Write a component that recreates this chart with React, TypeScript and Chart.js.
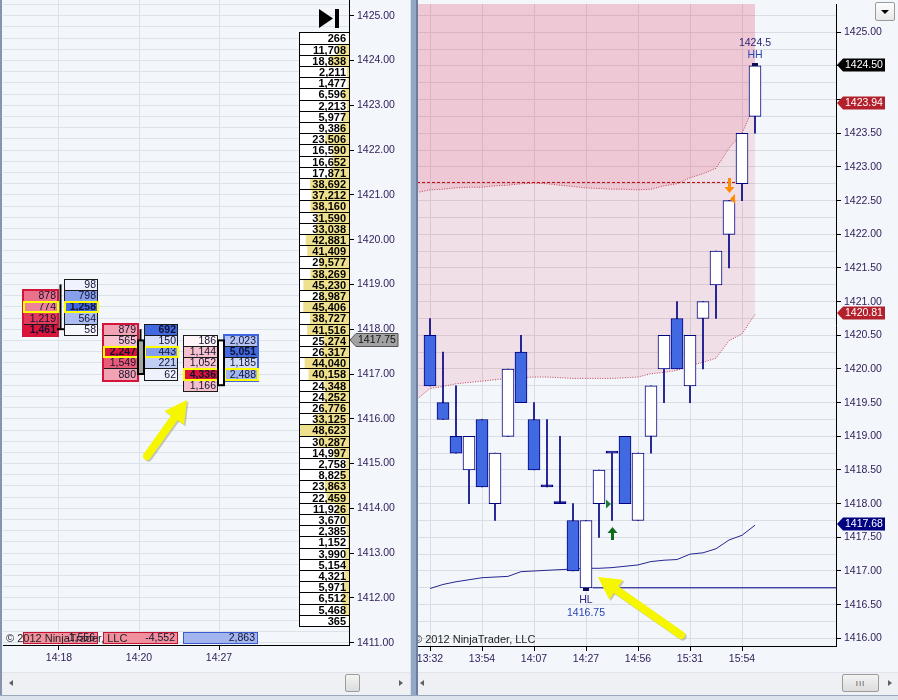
import React, { useEffect, useRef } from 'react';
import { Chart, registerables } from 'chart.js';

Chart.register(...registerables);

const FONT = "'Liberation Sans', Arial, Helvetica, sans-serif";
const AXIS_TEXT = '#2d1b57';

/* ---------------- LEFT PANEL : footprint + volume ladder ---------------- */
const fpTimes = ['14:18', '14:20', '14:27'];
const fpBidPrices = [
  [1418.75, 1418.5, 1418.25, 1418.0],
  [1418.0, 1417.75, 1417.5, 1417.25, 1417.0],
  [1417.75, 1417.5, 1417.25, 1417.0, 1416.75],
];
const fpBidVolumes = [
  [878, 774, 1219, 1461],
  [879, 565, 2247, 1549, 880],
  [186, 1144, 1052, 4336, 1166],
];
const fpAskPrices = [
  [1419.0, 1418.75, 1418.5, 1418.25, 1418.0],
  [1418.0, 1417.75, 1417.5, 1417.25, 1417.0],
  [1417.75, 1417.5, 1417.25, 1417.0],
];
const fpAskVolumes = [
  [98, 798, 1258, 564, 58],
  [692, 150, 443, 221, 62],
  [2023, 5051, 1185, 2488],
];
const fpOpen = [1418.0, 1417.75, 1416.75];
const fpHigh = [1419.0, 1418.0, 1417.75];
const fpLow = [1418.0, 1417.0, 1416.75];
const fpClose = [1418.0, 1417.0, 1417.75];

const ladderTopPrice = 1424.5;
const ladderStep = 0.25;
const ladderVolumes = [
  266, 11708, 18838, 2211, 1477, 6596, 2213, 5977, 9386, 23506,
  16590, 16652, 17871, 38692, 37212, 38160, 31590, 33038, 42881, 41409,
  29577, 38269, 45230, 28987, 45406, 38727, 41516, 25274, 26317, 44040,
  40158, 24348, 24252, 26776, 33125, 48623, 30287, 14997, 2758, 8825,
  23863, 22459, 11926, 3670, 2385, 1152, 3990, 5154, 4321, 5971,
  6512, 5468, 365,
];

const leftArrow = { fromX: 1.1, fromPrice: 1415.17, toX: 1.6, toPrice: 1416.42 };

/* ---------------- RIGHT PANEL : candles + bands ---------------- */
const candleTimes = ['13:32', '13:54', '14:07', '14:27', '14:56', '15:31', '15:54'];
const candleTimeIndex = [0, 4, 8, 12, 16, 20, 24];
const candleOpen = [
  1420.5, 1419.5, 1419.0, 1418.5, 1419.25, 1418.0, 1419.0, 1420.25, 1419.25, 1418.25,
  1418.0, 1417.75, 1416.75, 1418.0, 1418.75, 1419.0, 1417.75, 1419.0, 1420.0, 1420.75,
  1419.75, 1420.75, 1421.25, 1422.0, 1422.75, 1423.75,
];
const candleHigh = [
  1420.75, 1420.25, 1419.75, 1419.0, 1419.25, 1418.75, 1420.0, 1420.5, 1419.5, 1419.25,
  1419.0, 1418.0, 1417.75, 1418.5, 1418.75, 1419.0, 1418.75, 1419.75, 1420.5, 1421.0,
  1420.5, 1421.0, 1421.75, 1422.5, 1423.5, 1424.5,
];
const candleLow = [
  1419.75, 1419.25, 1418.75, 1418.0, 1418.25, 1417.75, 1419.0, 1419.5, 1418.5, 1418.25,
  1418.0, 1417.0, 1416.75, 1417.5, 1417.75, 1418.0, 1417.75, 1418.75, 1419.5, 1420.0,
  1419.5, 1420.0, 1420.75, 1421.5, 1422.5, 1423.5,
];
const candleClose = [
  1419.75, 1419.25, 1418.75, 1419.0, 1418.25, 1418.75, 1420.0, 1419.5, 1418.5, 1418.25,
  1418.0, 1417.0, 1417.75, 1418.5, 1418.75, 1418.0, 1418.75, 1419.75, 1420.5, 1420.0,
  1420.5, 1421.0, 1421.75, 1422.5, 1423.5, 1424.5,
];

const bandStartIndex = -1;
const upperBand = [
  1422.62, 1422.66, 1422.67, 1422.69, 1422.70, 1422.70, 1422.72, 1422.73, 1422.75, 1422.76,
  1422.75, 1422.73, 1422.71, 1422.69, 1422.68, 1422.67, 1422.67, 1422.66, 1422.67, 1422.72,
  1422.75, 1422.84, 1422.90, 1422.98, 1423.28, 1423.50, 1423.94,
];
const lowerBand = [
  1419.55, 1419.71, 1419.74, 1419.78, 1419.80, 1419.82, 1419.84, 1419.86, 1419.87, 1419.88,
  1419.88, 1419.87, 1419.86, 1419.86, 1419.86, 1419.86, 1419.87, 1419.88, 1419.93, 1419.95,
  1419.98, 1420.05, 1420.10, 1420.16, 1420.42, 1420.52, 1420.81,
];
const trendLine = [
  1416.74, 1416.80, 1416.84, 1416.87, 1416.90, 1416.91, 1416.92, 1416.99, 1417.00, 1417.01,
  1417.02, 1417.03, 1417.04, 1417.04, 1417.05, 1417.07, 1417.09, 1417.14, 1417.16, 1417.17,
  1417.25, 1417.27, 1417.33, 1417.46, 1417.53, 1417.68,
];
const keyLevel = 1422.77;
const keyLevelFrom = -1;
const keyLevelTo = 23.5;
const hlLevel = 1416.75;
const hlLevelFrom = 12.5;
const hlLevelTo = 40;
const swingLabels = [
  { index: 25, price: 1424.5, kind: 'HH', above: true },
  { index: 12, price: 1416.75, kind: 'HL', above: false },
];
const longSignal = { index: 14, entry: 1418.0 };
const shortSignal = { index: 23, entry: 1422.5 };
const rightArrow = { fromX: 19.31, fromPrice: 1416.05, toX: 12.92, toPrice: 1416.91 };

/* ---------------- helpers ---------------- */
function range(a: number, b: number, s: number) {
  const out: number[] = [];
  for (let v = a; v <= b + 1e-9; v += s) out.push(Math.round(v * 100) / 100);
  return out;
}
const leftPriceTicks = range(1411, 1425.25, 0.25);
const rightPriceTicks = range(1416, 1425.25, 0.25);
const fmt = (n: number) => n.toLocaleString('en-US');
function mix(rgb: number[], t: number) {
  const c = rgb.map((v) => Math.round(255 + (v - 255) * t));
  return `rgb(${c[0]},${c[1]},${c[2]})`;
}
const CRIMSON = [220, 20, 60];
const ROYAL = [65, 105, 225];
const last = (arr: number[]) => arr[arr.length - 1];
const rightTagValues = [last(candleClose), last(upperBand), last(lowerBand), last(trendLine)];
const rightTagColors = ['#000000', '#B3202C', '#B3202C', '#000080'];

function fatArrow(ctx: CanvasRenderingContext2D, x0: number, y0: number, x1: number, y1: number) {
  const ang = Math.atan2(y1 - y0, x1 - x0);
  const headLen = 22, headHalf = 12, shaft = 8;
  const bx = x1 - Math.cos(ang) * headLen, by = y1 - Math.sin(ang) * headLen;
  const nx = Math.cos(ang + Math.PI / 2), ny = Math.sin(ang + Math.PI / 2);
  const passes = [
    { d: 1.5, c: 'rgba(110,110,60,0.35)' },
    { d: 0, c: '#F6F600' },
  ];
  ctx.save();
  ctx.lineCap = 'round';
  for (const p of passes) {
    ctx.strokeStyle = p.c;
    ctx.fillStyle = p.c;
    ctx.lineWidth = shaft;
    ctx.beginPath();
    ctx.moveTo(x0 + p.d, y0 + p.d);
    ctx.lineTo(bx + p.d, by + p.d);
    ctx.stroke();
    ctx.beginPath();
    ctx.moveTo(x1 + p.d, y1 + p.d);
    ctx.lineTo(bx + nx * headHalf + p.d, by + ny * headHalf + p.d);
    ctx.lineTo(bx - nx * headHalf + p.d, by - ny * headHalf + p.d);
    ctx.closePath();
    ctx.fill();
  }
  ctx.restore();
}

function axisTag(ctx: CanvasRenderingContext2D, x: number, y: number, text: string, bg: string, fg: string, border?: string) {
  const h = 6.5, w = 49;
  ctx.beginPath();
  ctx.moveTo(x + 1, y);
  ctx.lineTo(x + 7, y - h);
  ctx.lineTo(x + w, y - h);
  ctx.lineTo(x + w, y + h);
  ctx.lineTo(x + 7, y + h);
  ctx.closePath();
  ctx.fillStyle = bg;
  ctx.fill();
  if (border) {
    ctx.strokeStyle = border;
    ctx.lineWidth = 1;
    ctx.stroke();
  }
  ctx.fillStyle = fg;
  ctx.font = `10.5px ${FONT}`;
  ctx.textAlign = 'left';
  ctx.textBaseline = 'middle';
  ctx.fillText(text, x + 9, y + 0.5);
}

const zeroPad = (s: any) => {
  s.paddingTop = 0;
  s.paddingBottom = 0;
  s.paddingLeft = 0;
  s.paddingRight = 0;
};

/* ---------------- left plugin ---------------- */
const leftPlugin = {
  id: 'footprintLadder',
  afterDraw(chart: any) {
    const { ctx, chartArea: a } = chart;
    const xs = chart.scales.x, ys = chart.scales.y;
    const py = (p: number) => ys.getPixelForValue(p);
    const rowT = (p: number) => Math.round(py(p + 0.125));
    const rowB = (p: number) => Math.round(py(p - 0.125));
    ctx.save();
    ctx.beginPath();
    ctx.rect(a.left, a.top, a.right - a.left, a.bottom - a.top);
    ctx.clip();

    // volume ladder
    const lx1 = Math.round(a.right), lw = 50, lx0 = lx1 - lw;
    const maxV = Math.max(...ladderVolumes);
    ladderVolumes.forEach((v, k) => {
      const p = ladderTopPrice - k * ladderStep;
      const t = rowT(p), b = rowB(p);
      ctx.fillStyle = '#FFFFFF';
      ctx.fillRect(lx0, t, lw, b - t);
      const w = (v / maxV) * (lw - 1);
      ctx.fillStyle = '#EEE08C';
      ctx.fillRect(lx1 - w, t, w, b - t);
      ctx.strokeStyle = '#000';
      ctx.lineWidth = 1;
      ctx.strokeRect(lx0 + 0.5, t + 0.5, lw, b - t);
      ctx.fillStyle = '#000';
      ctx.font = `bold 11px ${FONT}`;
      ctx.textAlign = 'right';
      ctx.textBaseline = 'middle';
      ctx.fillText(fmt(v), lx1 - 3, (t + b) / 2 + 1);
    });

    // footprint bars
    fpTimes.forEach((_, i) => {
      const xc = Math.round(xs.getPixelForValue(i));
      const bx0 = xc - 36, bx1 = xc - 2, ax0 = xc + 5, ax1 = xc + 38;
      const bids = fpBidVolumes[i], asks = fpAskVolumes[i];
      const maxB = Math.max(...bids), maxA = Math.max(...asks);
      const totals: Record<string, number> = {};
      fpBidPrices[i].forEach((p, k) => (totals[p] = (totals[p] || 0) + bids[k]));
      fpAskPrices[i].forEach((p, k) => (totals[p] = (totals[p] || 0) + asks[k]));
      let poc = 0, pocV = -1;
      Object.keys(totals).forEach((k) => {
        if (totals[k] > pocV) { pocV = totals[k]; poc = parseFloat(k); }
      });
      const drawCell = (x0: number, x1: number, p: number, fill: string, v: number, bold: boolean) => {
        const t = rowT(p), b = rowB(p);
        ctx.fillStyle = fill;
        ctx.fillRect(x0, t, x1 - x0, b - t);
        ctx.strokeStyle = '#1a1a1a';
        ctx.lineWidth = 1;
        ctx.strokeRect(x0 + 0.5, t + 0.5, x1 - x0, b - t);
        ctx.fillStyle = '#121232';
        ctx.font = `${bold ? 'bold ' : ''}10.5px ${FONT}`;
        ctx.textAlign = 'right';
        ctx.textBaseline = 'middle';
        ctx.fillText(fmt(v), x1 - 1, (t + b) / 2 + 1);
      };
      fpBidPrices[i].forEach((p, k) => drawCell(bx0, bx1, p, mix(CRIMSON, bids[k] / maxB), bids[k], bids[k] === maxB));
      fpAskPrices[i].forEach((p, k) => drawCell(ax0, ax1, p, mix(ROYAL, asks[k] / maxA), asks[k], asks[k] === maxA));

      const sumB = bids.reduce((s, v) => s + v, 0), sumA = asks.reduce((s, v) => s + v, 0);
      const delta = sumA - sumB;
      // dominant side frame
      const domPrices = delta < 0 ? fpBidPrices[i] : fpAskPrices[i];
      const dx0 = delta < 0 ? bx0 : ax0, dx1 = delta < 0 ? bx1 : ax1;
      ctx.strokeStyle = delta < 0 ? '#D41438' : '#3F66DE';
      ctx.lineWidth = 2;
      const ft = rowT(Math.max(...domPrices)), fb = rowB(Math.min(...domPrices));
      ctx.strokeRect(dx0, ft, dx1 - dx0 + 1, fb - ft + 1);
      // POC row frames
      ctx.strokeStyle = '#FFFF00';
      ctx.lineWidth = 2;
      const pt = rowT(poc), pb = rowB(poc);
      if (fpBidPrices[i].includes(poc)) ctx.strokeRect(bx0 + 1, pt + 1, bx1 - bx0, pb - pt - 1);
      if (fpAskPrices[i].includes(poc)) ctx.strokeRect(ax0 + 1, pt + 1, ax1 - ax0, pb - pt - 1);

      // mini candle
      const cx = xc + 1.5;
      const o = fpOpen[i], c = fpClose[i];
      ctx.strokeStyle = '#000';
      ctx.lineWidth = 2;
      ctx.beginPath();
      ctx.moveTo(cx, py(fpHigh[i]));
      ctx.lineTo(cx, py(Math.max(o, c)));
      ctx.moveTo(cx, py(Math.min(o, c)));
      ctx.lineTo(cx, py(fpLow[i]));
      ctx.stroke();
      if (o === c) {
        ctx.beginPath();
        ctx.moveTo(xc - 2, py(c));
        ctx.lineTo(xc + 5, py(c));
        ctx.stroke();
      } else {
        const t = py(Math.max(o, c)), b = py(Math.min(o, c));
        ctx.fillStyle = c > o ? '#FFFFFF' : '#A6A6A6';
        ctx.fillRect(xc - 1, t, 6, b - t);
        ctx.strokeRect(xc - 1, t, 6, b - t);
      }

      // delta box
      const dt = Math.round(a.bottom) - 13, dh = 11;
      ctx.fillStyle = delta < 0 ? '#F1909D' : '#A3B5EF';
      ctx.fillRect(bx0, dt, ax1 - bx0, dh);
      ctx.strokeStyle = delta < 0 ? '#C41232' : '#3A5ACF';
      ctx.lineWidth = 1;
      ctx.strokeRect(bx0 + 0.5, dt + 0.5, ax1 - bx0, dh);
      ctx.fillStyle = '#121232';
      ctx.font = `10.5px ${FONT}`;
      ctx.textAlign = 'right';
      ctx.textBaseline = 'middle';
      ctx.fillText(fmt(delta), ax1 - 2, dt + dh / 2 + 1);
    });

    // annotation arrow
    fatArrow(ctx, xs.getPixelForValue(leftArrow.fromX), py(leftArrow.fromPrice),
      xs.getPixelForValue(leftArrow.toX), py(leftArrow.toPrice));

    // copyright
    ctx.fillStyle = '#1e1e1e';
    ctx.font = `11px ${FONT}`;
    ctx.textAlign = 'left';
    ctx.textBaseline = 'middle';
    ctx.fillText('\u00A9 2012 NinjaTrader, LLC', a.left + 3, a.bottom - 6);

    // "go to end" icon
    ctx.fillStyle = '#000';
    ctx.beginPath();
    ctx.moveTo(a.right - 30, a.top + 9);
    ctx.lineTo(a.right - 16, a.top + 18.5);
    ctx.lineTo(a.right - 30, a.top + 28);
    ctx.closePath();
    ctx.fill();
    ctx.fillRect(a.right - 14, a.top + 9, 4, 19);
    ctx.restore();

    // last price tag
    ctx.save();
    axisTag(ctx, a.right, Math.round(py(fpClose[fpClose.length - 1])), fpClose[fpClose.length - 1].toFixed(2), '#A2A2A2', '#111', '#555');
    ctx.restore();
  },
};

/* ---------------- right plugin ---------------- */
const rightPlugin = {
  id: 'candleMarks',
  afterDatasetsDraw(chart: any) {
    const { ctx, chartArea: a } = chart;
    const xs = chart.scales.x, ys = chart.scales.y;
    const px = (i: number) => Math.round(xs.getPixelForValue(i));
    const py = (p: number) => ys.getPixelForValue(p);
    ctx.save();
    ctx.beginPath();
    ctx.rect(a.left, a.top, a.right - a.left, a.bottom - a.top);
    ctx.clip();

    // swing labels
    swingLabels.forEach((s) => {
      const xc = px(s.index), y = Math.round(py(s.price));
      ctx.fillStyle = '#0c0c50';
      if (s.above) ctx.fillRect(xc - 3, y - 3, 6, 3);
      else ctx.fillRect(xc - 3, y, 6, 3);
      ctx.font = `10.5px ${FONT}`;
      ctx.textAlign = 'center';
      ctx.textBaseline = 'middle';
      if (s.above) {
        ctx.fillStyle = '#2b237a';
        ctx.fillText(String(s.price), xc, y - 23);
        ctx.fillStyle = '#2845b5';
        ctx.fillText(s.kind, xc, y - 11);
      } else {
        ctx.fillStyle = '#3a2a8a';
        ctx.fillText(s.kind, xc, y + 12);
        ctx.fillStyle = '#2845b5';
        ctx.fillText(String(s.price), xc, y + 25);
      }
    });

    // long signal (green)
    {
      const xc = px(longSignal.index);
      const yl = Math.round(py(candleLow[longSignal.index]));
      ctx.fillStyle = '#0E6B1E';
      ctx.beginPath();
      ctx.moveTo(xc - 4.5, yl + 13);
      ctx.lineTo(xc + 0.5, yl + 7);
      ctx.lineTo(xc + 5.5, yl + 13);
      ctx.closePath();
      ctx.fill();
      ctx.fillRect(xc - 1, yl + 13, 3, 7);
      const ye = Math.round(py(longSignal.entry));
      ctx.fillStyle = '#1F7D2F';
      ctx.beginPath();
      ctx.moveTo(xc - 6, ye - 4.5);
      ctx.lineTo(xc - 1, ye);
      ctx.lineTo(xc - 6, ye + 4.5);
      ctx.closePath();
      ctx.fill();
    }
    // short signal (orange)
    {
      const xc = px(shortSignal.index);
      const yh = Math.round(py(candleHigh[shortSignal.index]));
      ctx.fillStyle = '#FF8C00';
      ctx.fillRect(xc - 1, yh - 23, 3, 9);
      ctx.beginPath();
      ctx.moveTo(xc - 4.5, yh - 14);
      ctx.lineTo(xc + 5.5, yh - 14);
      ctx.lineTo(xc + 0.5, yh - 8);
      ctx.closePath();
      ctx.fill();
      const ye = Math.round(py(shortSignal.entry));
      ctx.beginPath();
      ctx.moveTo(xc + 1, ye - 2);
      ctx.lineTo(xc + 6, ye - 7);
      ctx.lineTo(xc + 6, ye + 3);
      ctx.closePath();
      ctx.fill();
    }

    fatArrow(ctx, xs.getPixelForValue(rightArrow.fromX), py(rightArrow.fromPrice),
      xs.getPixelForValue(rightArrow.toX), py(rightArrow.toPrice));
    ctx.restore();

    ctx.save();
    ctx.fillStyle = '#1e1e1e';
    ctx.font = `11px ${FONT}`;
    ctx.textAlign = 'left';
    ctx.textBaseline = 'middle';
    ctx.fillText('\u00A9 2012 NinjaTrader, LLC', a.left - 4, a.bottom - 6);
    ctx.restore();
  },
  afterDraw(chart: any) {
    const { ctx, chartArea: a } = chart;
    const ys = chart.scales.y;
    ctx.save();
    rightTagValues.forEach((v, k) =>
      axisTag(ctx, a.right, Math.round(ys.getPixelForValue(v)) - 1, v.toFixed(2), rightTagColors[k], '#FFFFFF'));
    ctx.restore();
  },
};

const isInt = (v: number) => Math.abs(v - Math.round(v)) < 1e-6;
const isHalf = (v: number) => Math.abs(v * 2 - Math.round(v * 2)) < 1e-6;
const hiddenByTag = (v: number) => rightTagValues.some((t) => Math.abs(t - v) < 0.1);

export default function App() {
  const leftRef = useRef<HTMLCanvasElement>(null);
  const rightRef = useRef<HTMLCanvasElement>(null);

  useEffect(() => {
    Chart.defaults.font.family = FONT;
    const tickFont = { family: FONT, size: 10.5 };

    const left = new Chart(leftRef.current as HTMLCanvasElement, {
      type: 'scatter',
      data: { datasets: [] },
      options: {
        responsive: false,
        animation: false,
        devicePixelRatio: 1,
        events: [],
        layout: { padding: { left: 3, top: 0, right: 0, bottom: 0 } },
        plugins: { legend: { display: false }, tooltip: { enabled: false } },
        scales: {
          x: {
            type: 'linear',
            min: -0.7,
            max: 3.625,
            afterBuildTicks: (s: any) => { s.ticks = fpTimes.map((_, i) => ({ value: i })); },
            afterFit: (s: any) => { s.height = 20; zeroPad(s); },
            grid: { color: '#DDE1E8', tickLength: 5, tickColor: '#000' },
            border: { color: '#000', width: 1 },
            ticks: {
              autoSkip: false, maxRotation: 0, padding: 2, color: AXIS_TEXT, font: tickFont,
              callback: (v: any) => fpTimes[Math.round(v)] ?? '',
            },
          },
          y: {
            type: 'linear',
            position: 'right',
            min: 1410.95,
            max: 1425.35,
            afterBuildTicks: (s: any) => { s.ticks = leftPriceTicks.map((v) => ({ value: v })); },
            afterFit: (s: any) => { s.width = 61; zeroPad(s); },
            grid: {
              color: '#DDE1E8', tickLength: 5,
              tickColor: (c: any) => (c.tick && isInt(c.tick.value) ? '#000' : 'rgba(0,0,0,0)'),
            },
            border: { color: '#000', width: 1 },
            ticks: {
              autoSkip: false, padding: 3, color: AXIS_TEXT, font: tickFont,
              callback: (v: any) => (isInt(v) ? Number(v).toFixed(2) : ''),
            },
          },
        },
      },
      plugins: [leftPlugin],
    } as any);

    const idx = candleOpen.map((_, i) => i);
    const right = new Chart(rightRef.current as HTMLCanvasElement, {
      type: 'bar',
      data: {
        datasets: [
          {
            type: 'bar',
            label: 'body',
            data: idx.map((i) => ({ x: i, y: [candleOpen[i], candleClose[i]] })),
            backgroundColor: idx.map((i) => (candleClose[i] > candleOpen[i] ? '#FFFFFF' : candleClose[i] < candleOpen[i] ? '#4169E1' : '#000080')),
            borderColor: '#000080',
            borderWidth: 1,
            borderSkipped: false,
            barThickness: 12,
            minBarLength: 2,
            grouped: false,
            order: 0,
          },
          {
            type: 'bar',
            label: 'wick',
            data: idx.map((i) => ({ x: i, y: [candleLow[i], candleHigh[i]] })),
            backgroundColor: '#000080',
            borderWidth: 0,
            barThickness: 1,
            grouped: false,
            order: 1,
          },
          {
            type: 'line',
            label: 'hl',
            data: [{ x: hlLevelFrom, y: hlLevel }, { x: hlLevelTo, y: hlLevel }],
            borderColor: '#000080', borderWidth: 1, pointRadius: 0, fill: false, order: 2,
          },
          {
            type: 'line',
            label: 'trend',
            data: trendLine.map((v, i) => ({ x: i, y: v })),
            borderColor: '#262690', borderWidth: 1, pointRadius: 0, fill: false, order: 3,
          },
          {
            type: 'line',
            label: 'key',
            data: [{ x: keyLevelFrom, y: keyLevel }, { x: keyLevelTo, y: keyLevel }],
            borderColor: '#C00000', borderWidth: 1, borderDash: [3, 2], pointRadius: 0, fill: false, order: 4,
          },
          {
            type: 'line',
            label: 'upper',
            data: upperBand.map((v, k) => ({ x: bandStartIndex + k, y: v })),
            borderColor: '#C0404E', borderWidth: 1, borderDash: [1, 1.5], pointRadius: 0,
            fill: 'end', backgroundColor: 'rgba(220,20,60,0.2)', order: 6,
          },
          {
            type: 'line',
            label: 'lower',
            data: lowerBand.map((v, k) => ({ x: bandStartIndex + k, y: v })),
            borderColor: '#C0404E', borderWidth: 1, borderDash: [1, 1.5], pointRadius: 0,
            fill: '-1', backgroundColor: 'rgba(220,20,60,0.1)', order: 5,
          },
        ],
      },
      options: {
        responsive: false,
        animation: false,
        devicePixelRatio: 1,
        events: [],
        layout: { padding: { left: 0, top: 4, right: 0, bottom: 0 } },
        plugins: { legend: { display: false }, tooltip: { enabled: false } },
        scales: {
          x: {
            type: 'linear',
            offset: false,
            min: -12 / 13,
            max: -12 / 13 + 418 / 13,
            afterBuildTicks: (s: any) => { s.ticks = candleTimeIndex.map((v) => ({ value: v })); },
            afterFit: (s: any) => { s.height = 19; zeroPad(s); },
            grid: { offset: false, color: '#DADDE4', tickLength: 5, tickColor: '#000' },
            border: { color: '#000', width: 1 },
            ticks: {
              autoSkip: false, maxRotation: 0, padding: 2, color: AXIS_TEXT, font: tickFont,
              callback: (v: any) => candleTimes[candleTimeIndex.indexOf(Math.round(v))] ?? '',
            },
          },
          y: {
            type: 'linear',
            position: 'right',
            min: 1415.886,
            max: 1425.42,
            afterBuildTicks: (s: any) => { s.ticks = rightPriceTicks.map((v) => ({ value: v })); },
            afterFit: (s: any) => { s.width = 62; zeroPad(s); },
            grid: {
              color: '#DADDE4', tickLength: 5,
              tickColor: (c: any) => (c.tick && isHalf(c.tick.value) ? '#000' : 'rgba(0,0,0,0)'),
            },
            border: { color: '#000', width: 1 },
            ticks: {
              autoSkip: false, padding: 3, color: AXIS_TEXT, font: tickFont,
              callback: (v: any) => (isHalf(v) && !hiddenByTag(Number(v)) ? Number(v).toFixed(2) : ''),
            },
          },
        },
      },
      plugins: [rightPlugin],
    } as any);

    return () => {
      left.destroy();
      right.destroy();
    };
  }, []);

  const arrowL = (x: number, y: number, dir: 'l' | 'r') => (
    <div style={{
      position: 'absolute', left: x, top: y, width: 0, height: 0,
      borderTop: '3.5px solid transparent', borderBottom: '3.5px solid transparent',
      ...(dir === 'l' ? { borderRight: '4px solid #606060' } : { borderLeft: '4px solid #606060' }),
    }} />
  );
  const thumb = (x: number, w: number) => (
    <div style={{
      position: 'absolute', left: x, top: 674, width: w, height: 18, boxSizing: 'border-box',
      border: '1px solid #9c9c9c', borderRadius: 2,
      background: 'linear-gradient(#f4f4f4, #dcdcdc)',
      display: 'flex', alignItems: 'center', justifyContent: 'center',
      fontSize: 8, color: '#555', fontFamily: FONT, letterSpacing: 1,
    }}>{w > 25 ? 'III' : ''}</div>
  );

  return (
    <div style={{ position: 'fixed', left: 0, top: 0, width: 898, height: 700, background: '#F3F6FB', overflow: 'hidden' }}>
      <canvas ref={leftRef} width={410} height={665} style={{ position: 'absolute', left: 0, top: 0, display: 'block' }} />
      <canvas ref={rightRef} width={480} height={665} style={{ position: 'absolute', left: 418, top: 0, display: 'block' }} />
      <div style={{ position: 'absolute', left: 0, top: 0, width: 2, height: 700, background: '#8494AD' }} />
      <div style={{ position: 'absolute', left: 410, top: 0, width: 1, height: 700, background: '#D8DEE8' }} />
      <div style={{ position: 'absolute', left: 411, top: 0, width: 5, height: 700, background: '#93A7C7' }} />
      <div style={{ position: 'absolute', left: 416, top: 0, width: 2, height: 700, background: '#6C7FA0' }} />
      <div style={{ position: 'absolute', left: 2, top: 672, width: 408, height: 22, background: '#EEF0F3', borderTop: '1px solid #E2E6EC' }} />
      <div style={{ position: 'absolute', left: 418, top: 672, width: 480, height: 22, background: '#EEF0F3', borderTop: '1px solid #E2E6EC' }} />
      {arrowL(9, 680, 'l')}
      {arrowL(399, 680, 'r')}
      {arrowL(420, 680, 'l')}
      {arrowL(888, 680, 'r')}
      {thumb(345, 15)}
      {thumb(842, 37)}
      <div style={{ position: 'absolute', left: 0, top: 695, width: 898, height: 5, background: '#DCE3ED', borderTop: '1px solid #9AA8BE' }} />
      <div style={{
        position: 'absolute', left: 875, top: 2, width: 20, height: 19, boxSizing: 'border-box',
        border: '1px solid #9a9a9a', borderRadius: 2, background: 'linear-gradient(#fdfdfd, #e8e8e8)',
      }}>
        <div style={{
          position: 'absolute', left: 5, top: 7, width: 0, height: 0,
          borderLeft: '4px solid transparent', borderRight: '4px solid transparent', borderTop: '4px solid #000',
        }} />
      </div>
    </div>
  );
}
